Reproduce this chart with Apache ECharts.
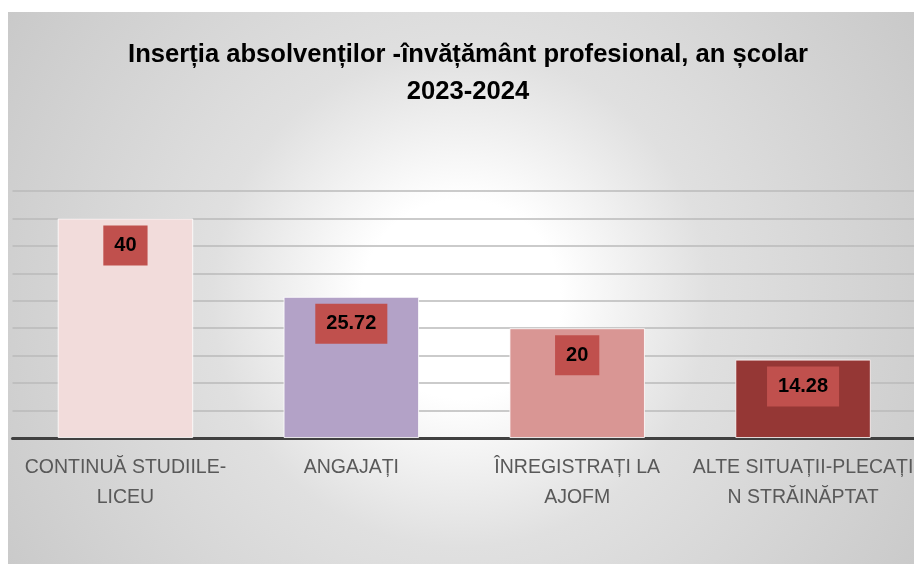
<!DOCTYPE html>
<html lang="ro">
<head>
    <meta charset="UTF-8"/>
    <script src="https://cdn.jsdelivr.net/npm/echarts@6/dist/echarts.min.js"></script>
    <title>Insertia absolventilor</title>
    <style>
        body { margin: 0; background: #ffffff; }
    </style>
</head>
<body>
<!-- zona graficului, decalata ca in imaginea originala -->
<div id="main" style="position:absolute;left:8px;top:12px;width:906px;height:552px;"></div>
<script type="text/javascript">
    // categorii si valori
    var categories = ['CONTINUĂ STUDIILE-\nLICEU', 'ANGAJAȚI', 'ÎNREGISTRAȚI LA\nAJOFM', 'ALTE SITUAȚII-PLECAȚI\nN STRĂINĂPTAT'];
    var values = [40, 25.72, 20, 14.28];
    var barColors = ['#f2dcdb', '#b3a2c7', '#d99694', '#953735'];
    var valueLabels = ['40', '25.72', '20', '14.28'];

    var font = '"Liberation Sans", sans-serif';

    var myChart = echarts.init(document.getElementById('main'));

    var option = {
        // fundal gri cu centru alb (gradient radial)
        backgroundColor: {
            type: 'radial', x: 0.5, y: 0.52, r: 1.0,
            colorStops: [
                {offset: 0, color: '#ffffff'},
                {offset: 0.18, color: '#ffffff'},
                {offset: 0.45, color: '#e0e0e0'},
                {offset: 1, color: '#c8c8c8'}
            ]
        },
        animation: false,
        title: {
            text: 'Inserția absolvenților -învățământ profesional, an școlar\n2023-2024',
            left: 455,
            top: 19,
            textAlign: 'center',
            textStyle: {
                fontFamily: font,
                fontSize: 25.6,
                fontWeight: 'bold',
                color: '#000000',
                lineHeight: 37
            }
        },
        grid: {
            left: 4.5,
            right: -2,
            top: 179,
            bottom: 126,
            outerBoundsMode: 'none'
        },
        xAxis: {
            type: 'category',
            data: categories,
            axisTick: {show: false},
            axisLine: {lineStyle: {color: '#404040', width: 3}},
            axisLabel: {
                color: '#595959',
                fontFamily: font,
                fontSize: 19.5,
                lineHeight: 30,
                margin: 15,
                interval: 0
            }
        },
        yAxis: {
            type: 'value',
            min: 0,
            max: 45,
            interval: 5,
            axisLabel: {show: false},
            axisLine: {show: false},
            axisTick: {show: false},
            splitLine: {lineStyle: {color: '#bababa', width: 1.5}}
        },
        series: [
            {
                type: 'bar',
                barWidth: '60%',
                data: values.map(function (v, i) {
                    return {
                        value: v,
                        itemStyle: {color: barColors[i]}
                    };
                }),
                itemStyle: {borderColor: 'rgba(255,255,255,0.8)', borderWidth: 1},
                label: {
                    show: true,
                    position: 'insideTop',
                    distance: 7,
                    formatter: function (p) { return valueLabels[p.dataIndex]; },
                    backgroundColor: '#c0504d',
                    padding: [9, 11],
                    color: '#000000',
                    fontFamily: font,
                    fontSize: 20,
                    fontWeight: 'bold',
                    lineHeight: 22
                }
            }
        ]
    };

    myChart.setOption(option);
</script>
</body>
</html>
